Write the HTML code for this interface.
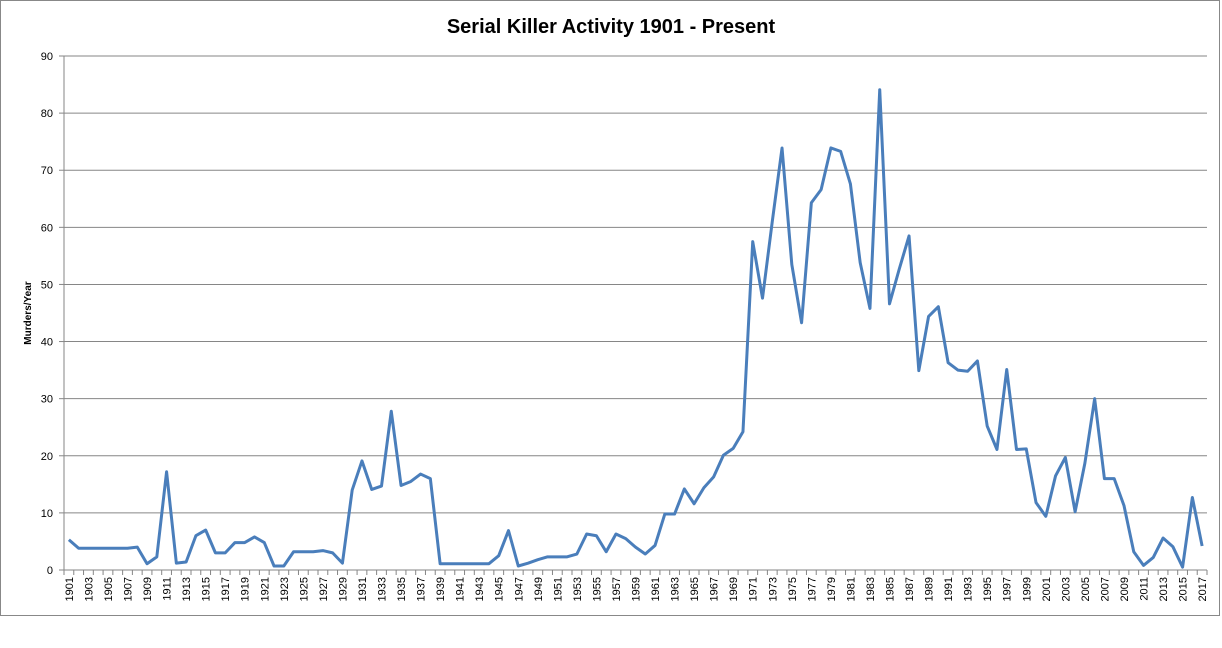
<!DOCTYPE html>
<html><head><meta charset="utf-8"><style>
body{margin:0;background:#fff;}
svg{display:block;font-family:"Liberation Sans",sans-serif;}
</style></head><body>
<svg id="chart" width="1222" height="648">
<rect x="0.5" y="0.5" width="1219" height="615" fill="#fff" stroke="#888"/>
<text x="611" y="33" text-anchor="middle" font-size="20" font-weight="bold">Serial Killer Activity 1901 - Present</text>
<text transform="translate(31,313) rotate(-90)" text-anchor="middle" font-size="10" font-weight="bold">Murders/Year</text>
<g id="grid"></g><g id="axes"></g><g id="series"></g>
</svg>
<script>
const years = [];
for (let y = 1901; y <= 2017; y++) years.push(y);
const murders = [5.3,3.8,3.8,3.8,3.8,3.8,3.8,4.0,1.1,2.3,17.2,1.2,1.4,6.0,7.0,3.0,3.0,4.8,4.8,5.8,4.8,0.7,0.7,3.2,3.2,3.2,3.4,3.0,1.2,14.0,
19.1,14.1,14.7,27.8,14.8,15.5,16.8,16.0,1.1,1.1,1.1,1.1,1.1,1.1,2.5,6.9,0.7,1.2,1.8,2.3,2.3,2.3,2.8,6.3,6.0,3.2,6.3,5.5,4.0,2.8,
4.3,9.8,9.8,14.2,11.6,14.4,16.3,20.1,21.3,24.2,57.5,47.6,61.0,73.9,53.5,43.3,64.3,66.6,73.9,73.3,67.6,53.8,45.8,84.1,46.6,52.7,58.5,34.9,44.4,46.1,
36.3,35.0,34.8,36.6,25.2,21.1,35.1,21.1,21.2,11.8,9.4,16.5,19.7,10.2,18.7,30.0,16.0,16.0,11.3,3.2,0.8,2.2,5.6,4.1,0.5,12.7,4.2];
const yTicks = [0,10,20,30,40,50,60,70,80,90];
const NS='http://www.w3.org/2000/svg';
const X0=64, X1=1207, Y0=570, Y1=56, YMAX=90;
const bw=(X1-X0)/years.length;
const xs=i=>X0+bw*(i+0.5);
const ys=v=>Y0-(v/YMAX)*(Y0-Y1);
function mk(tag,attrs,parent){const e=document.createElementNS(NS,tag);for(const k in attrs)e.setAttribute(k,attrs[k]);parent.appendChild(e);return e;}
const grid=document.getElementById('grid'), axes=document.getElementById('axes'), series=document.getElementById('series');
yTicks.forEach(t=>{
  if(t>0){const g=mk('line',{x1:X0,x2:X1,y1:ys(t),y2:ys(t),stroke:'#868686','stroke-width':1},grid);
  
  }
  const tk=mk('line',{x1:X0-5,x2:X0,y1:ys(t),y2:ys(t),stroke:'#868686'},axes);
  
  
  const lb=mk('text',{x:X0-11,y:ys(t)+4,'text-anchor':'end','font-size':11},axes);
  lb.textContent=t;
  
  
});
const ya=mk('line',{x1:X0,x2:X0,y1:Y1,y2:Y0,stroke:'#868686'},axes);


const xa=mk('line',{x1:X0,x2:X1,y1:Y0,y2:Y0,stroke:'#868686'},axes);


for(let i=0;i<=years.length;i++){
  const tk=mk('line',{x1:X0+bw*i,x2:X0+bw*i,y1:Y0,y2:Y0+5,stroke:'#868686'},axes);
  
  
}
years.forEach((yr,i)=>{
  if(i%2!==0)return;
  const x=xs(i)+4;
  const lb=mk('text',{transform:`translate(${x},${Y0+7}) rotate(-90)`,'text-anchor':'end','font-size':11},axes);
  lb.textContent=yr;
  
  
});
const d=murders.map((v,i)=>(i?'L':'M')+xs(i).toFixed(2)+' '+ys(v).toFixed(2)).join(' ');
const p=mk('path',{d:d,fill:'none',stroke:'#4a7ebb','stroke-width':3,'stroke-linejoin':'round'},series);


</script>
</body></html>
